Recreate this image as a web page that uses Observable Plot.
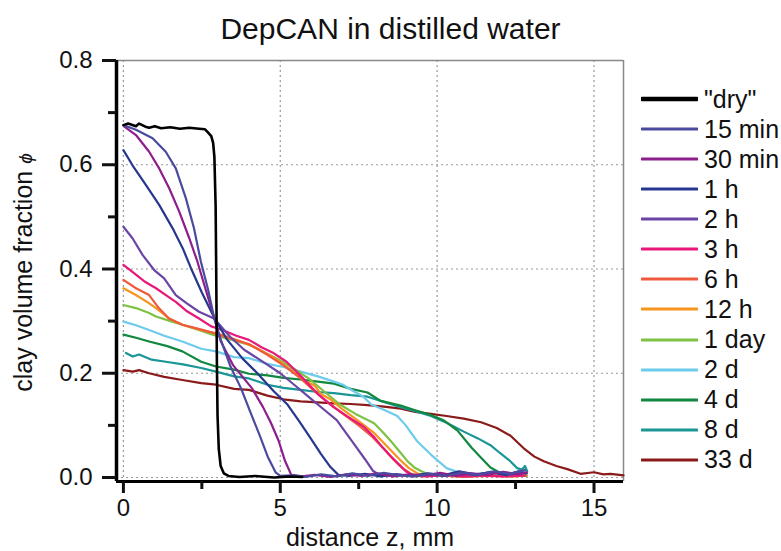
<!DOCTYPE html>
<html><head><meta charset="utf-8">
<script src="https://cdn.jsdelivr.net/npm/d3@7"></script>
<script src="https://cdn.jsdelivr.net/npm/@observablehq/plot@0.6"></script>
<style>
body{margin:0;background:#fff;overflow:hidden;}
#wrap{position:relative;width:781px;height:551px;font-family:"Liberation Sans",Arial,sans-serif;overflow:hidden;color:#111}
#title{position:absolute;left:0;width:781px;top:14px;text-align:center;font-size:30px;line-height:30px}
#xlabel{position:absolute;left:220px;width:300px;top:525px;text-align:center;font-size:25px;line-height:25px}
#ylabel{position:absolute;left:-127px;width:300px;top:260px;height:25px;text-align:center;font-size:25px;line-height:25px;transform:rotate(-90deg);white-space:nowrap}
#ylabel i{font-size:19px}
#legend{position:absolute;left:641px;top:84px;font-size:25px;white-space:nowrap}
.row{height:30.07px;display:flex;align-items:center}
.row svg{flex:none;margin-right:6px}
</style></head>
<body><div id="wrap">
<div id="title">DepCAN in distilled water</div>
<div id="ylabel">clay volume fraction <i>ϕ</i></div>
<div id="xlabel">distance z, mm</div>
<div id="legend"></div>
</div>
<script>
// ---- data: [distance z (mm), clay volume fraction phi] ----
const dry = [[0,0.676],[0.15,0.679],[0.4,0.674],[0.5,0.679],[0.7,0.673],[0.82,0.671],[1.0,0.674],[1.2,0.67],[1.5,0.672],[1.8,0.669],[2.1,0.671],[2.41,0.669],[2.6,0.668],[2.68,0.663],[2.8,0.655],[2.86,0.642],[2.9,0.615],[2.94,0.52],[2.96,0.38],[2.98,0.22],[3.0,0.12],[3.04,0.055],[3.1,0.022],[3.2,0.008],[3.35,0.003],[3.7,0.001],[4.2,0.003],[4.8,0.0],[5.3,0.002],[5.7,0.001]];
const min15 = [[0,0.676],[0.4,0.667],[0.93,0.651],[1.35,0.625],[1.67,0.593],[1.99,0.536],[2.25,0.478],[2.47,0.414],[2.7,0.36],[2.89,0.307],[3.1,0.265],[3.4,0.215],[3.75,0.171],[4.05,0.125],[4.35,0.08],[4.6,0.04],[4.85,0.01],[5.0,0.003],[5.4,0.004],[5.8,0.001],[6.3,0.006],[6.8,0.002],[7.3,0.008],[7.8,0.003],[8.3,0.009],[8.8,0.004],[9.3,0.002],[9.8,0.007],[10.3,0.003],[10.8,0.01],[11.3,0.005],[11.8,0.012],[12.3,0.007],[12.8,0.014]];
const min30 = [[0.03,0.673],[0.4,0.657],[0.82,0.625],[1.14,0.593],[1.46,0.555],[1.78,0.51],[2.1,0.459],[2.36,0.414],[2.6,0.365],[2.89,0.307],[3.1,0.262],[3.5,0.215],[4.1,0.171],[4.45,0.135],[4.7,0.105],[4.95,0.07],[5.15,0.032],[5.35,0.005],[5.7,0.002],[6.1,0.005],[6.6,0.001],[7.1,0.006],[7.6,0.003],[8.1,0.008],[8.6,0.002],[9.1,0.006],[9.6,0.004],[10.1,0.009],[10.6,0.003],[11.1,0.008],[11.6,0.005],[12.1,0.011],[12.6,0.006],[12.85,0.01]];
const h1 = [[0,0.628],[0.29,0.599],[0.72,0.561],[1.14,0.523],[1.57,0.478],[1.89,0.44],[2.15,0.402],[2.5,0.355],[2.89,0.307],[3.3,0.265],[3.8,0.228],[4.27,0.2],[4.8,0.165],[5.23,0.14],[5.6,0.108],[5.97,0.075],[6.3,0.045],[6.6,0.02],[6.85,0.005],[7.2,0.003],[7.7,0.007],[8.2,0.002],[8.7,0.006],[9.2,0.003],[9.7,0.008],[10.2,0.004],[10.7,0.012],[11.2,0.006],[11.7,0.01],[12.2,0.005],[12.6,0.012],[12.85,0.008]];
const h2 = [[0,0.481],[0.29,0.459],[0.61,0.427],[0.98,0.398],[1.3,0.382],[1.67,0.35],[2.0,0.335],[2.41,0.318],[2.89,0.305],[3.4,0.27],[3.85,0.245],[4.5,0.22],[5.0,0.2],[5.5,0.175],[6.0,0.15],[6.4,0.13],[6.8,0.11],[7.1,0.085],[7.4,0.06],[7.7,0.035],[7.95,0.013],[8.2,0.003],[8.7,0.006],[9.2,0.002],[9.7,0.007],[10.2,0.003],[10.7,0.009],[11.2,0.004],[11.7,0.011],[12.2,0.005],[12.85,0.009]];
const h3 = [[0,0.408],[0.4,0.389],[0.7,0.375],[1.04,0.363],[1.4,0.348],[1.67,0.337],[2.0,0.32],[2.41,0.305],[2.8,0.29],[3.16,0.283],[3.6,0.272],[4.0,0.264],[4.4,0.25],[4.75,0.24],[5.2,0.222],[5.65,0.195],[6.2,0.16],[6.7,0.135],[7.2,0.115],[7.67,0.097],[8.0,0.077],[8.2,0.062],[8.5,0.042],[8.73,0.028],[9.0,0.012],[9.2,0.005],[9.7,0.002],[10.3,0.005],[10.9,0.002],[11.5,0.004],[12.1,0.002],[12.8,0.004]];
const h6 = [[0,0.379],[0.4,0.363],[0.82,0.35],[1.13,0.325],[1.45,0.305],[1.88,0.293],[2.4,0.285],[3.0,0.275],[3.5,0.265],[4.0,0.256],[4.6,0.235],[5.1,0.215],[5.65,0.19],[6.1,0.165],[6.5,0.145],[7.0,0.122],[7.5,0.1],[7.9,0.08],[8.3,0.055],[8.6,0.035],[8.9,0.018],[9.2,0.006],[9.5,0.002],[10.1,0.004],[10.8,0.001],[11.5,0.003],[12.2,0.002],[12.8,0.003]];
const h12 = [[0,0.363],[0.4,0.35],[0.8,0.335],[1.04,0.325],[1.46,0.305],[1.88,0.293],[2.4,0.284],[3.0,0.276],[3.6,0.264],[4.2,0.25],[4.8,0.23],[5.3,0.208],[5.8,0.185],[6.1,0.176],[6.3,0.16],[6.6,0.15],[7.0,0.13],[7.5,0.108],[8.0,0.085],[8.4,0.06],[8.8,0.035],[9.1,0.018],[9.4,0.007],[9.7,0.003],[10.3,0.005],[11.0,0.002],[11.7,0.004],[12.4,0.002],[12.85,0.004]];
const day1 = [[0,0.331],[0.4,0.325],[0.8,0.316],[1.04,0.309],[1.5,0.3],[1.88,0.293],[2.4,0.283],[2.84,0.274],[3.4,0.265],[4.0,0.255],[4.5,0.24],[4.9,0.228],[5.4,0.21],[5.9,0.19],[6.4,0.165],[6.9,0.14],[7.4,0.122],[7.99,0.104],[8.3,0.085],[8.55,0.068],[8.8,0.05],[9.06,0.031],[9.3,0.018],[9.5,0.012],[9.8,0.004],[10.4,0.006],[11.0,0.003],[11.7,0.005],[12.3,0.003],[12.85,0.006]];
const d2 = [[0,0.299],[0.4,0.292],[0.82,0.283],[1.3,0.272],[1.88,0.261],[2.48,0.247],[2.95,0.242],[3.53,0.231],[4.0,0.229],[4.59,0.218],[5.1,0.212],[5.65,0.203],[6.2,0.194],[6.71,0.184],[7.0,0.178],[7.35,0.165],[7.65,0.155],[7.9,0.14],[8.3,0.13],[8.73,0.118],[9.0,0.1],[9.37,0.069],[9.8,0.044],[10.3,0.018],[10.85,0.006],[11.2,0.003],[11.8,0.006],[12.4,0.003],[12.85,0.005]];
const d4 = [[0,0.274],[0.4,0.268],[0.82,0.261],[1.4,0.252],[1.88,0.242],[2.48,0.222],[2.95,0.213],[3.53,0.207],[4.0,0.199],[4.59,0.196],[5.1,0.191],[5.65,0.188],[6.2,0.184],[6.71,0.18],[7.25,0.17],[7.78,0.163],[8.2,0.147],[8.84,0.138],[9.25,0.13],[9.8,0.12],[10.2,0.11],[10.65,0.09],[11.1,0.057],[11.4,0.038],[11.7,0.019],[12.1,0.006],[12.5,0.004],[12.85,0.003]];
const d8 = [[0.08,0.239],[0.3,0.232],[0.5,0.236],[0.9,0.226],[1.35,0.222],[1.9,0.217],[2.48,0.21],[2.95,0.203],[3.53,0.194],[4.0,0.19],[4.59,0.178],[5.1,0.172],[5.65,0.168],[6.2,0.164],[6.71,0.162],[7.25,0.158],[7.78,0.155],[8.3,0.145],[8.84,0.135],[9.3,0.127],[9.8,0.118],[10.3,0.105],[10.85,0.088],[11.3,0.075],[11.7,0.062],[12.0,0.047],[12.3,0.033],[12.55,0.018],[12.7,0.015],[12.8,0.022],[12.87,0.012]];
const d33 = [[0,0.206],[0.3,0.203],[0.5,0.206],[0.82,0.2],[1.3,0.193],[1.88,0.187],[2.48,0.181],[2.95,0.178],[3.53,0.17],[4.0,0.168],[4.59,0.157],[5.1,0.15],[5.65,0.146],[6.2,0.144],[6.71,0.142],[7.25,0.141],[7.78,0.139],[8.3,0.136],[8.84,0.132],[9.3,0.126],[9.8,0.122],[10.3,0.118],[10.85,0.113],[11.4,0.106],[11.9,0.095],[12.34,0.08],[12.76,0.056],[13.1,0.04],[13.4,0.031],[13.8,0.022],[14.15,0.016],[14.57,0.007],[15.0,0.01],[15.3,0.006],[15.53,0.007],[15.94,0.004]];

const labels = ['"dry"','15 min','30 min','1 h','2 h','3 h','6 h','12 h','1 day','2 d','4 d','8 d','33 d'];
const colors = ['#000000','#4a4a9e','#8e1e8c','#27378f','#6a45a5','#e8177a','#f05a3c','#f7941d','#7dc242','#6dcbeb','#11873f','#1a9696','#8b1a1a'];
const profiles = [dry, min15, min30, h1, h2, h3, h6, h12, day1, d2, d4, d8, d33];

const xTicks = [0, 5, 10, 15];
const xMinor = [2.5, 7.5, 12.5];
const yTicks = [0, 0.2, 0.4, 0.6, 0.8];
const yMinor = [0.1, 0.3, 0.5, 0.7];

const xDom = [-0.22, 15.94], yDom = [-0.0077, 0.8];

const lineMarks = [];
for (let i = profiles.length - 1; i >= 0; i--) {
  lineMarks.push(Plot.line(profiles[i], {x: d => d[0], y: d => d[1], stroke: colors[i], strokeWidth: i === 0 ? 2.6 : 2.2, strokeLinejoin: "round"}));
}

const chart = Plot.plot({
  width: 781, height: 551,
  marginLeft: 116, marginRight: 158, marginTop: 60, marginBottom: 70,
  style: {fontFamily: '"Liberation Sans", Arial, sans-serif', fontSize: "24px", color: "#111", background: "transparent"},
  x: {domain: xDom},
  y: {domain: yDom},
  marks: [
    Plot.gridX(xTicks, {stroke: "#999", strokeOpacity: 1, strokeWidth: 1.2, strokeDasharray: "2,3"}),
    Plot.gridY(yTicks, {stroke: "#999", strokeOpacity: 1, strokeWidth: 1.2, strokeDasharray: "2,3"}),
    Plot.ruleY([yDom[1]], {stroke: "#888", strokeWidth: 1.5}),
    Plot.ruleX([xDom[1]], {stroke: "#888", strokeWidth: 1.5}),
    ...lineMarks,
    Plot.ruleX([xDom[0]], {stroke: "#000", strokeWidth: 3.5}),
    Plot.ruleY([yDom[0]], {stroke: "#000", strokeWidth: 3}),
    Plot.axisY(yTicks, {tickSize: 14, tickPadding: 10, strokeWidth: 3, fontSize: 24, tickFormat: d3.format(".1f"), label: null}),
    Plot.axisY(yMinor, {tickSize: 8, strokeWidth: 3, tickFormat: () => "", label: null}),
    Plot.axisX(xTicks, {tickSize: 12, tickPadding: 5, strokeWidth: 3, fontSize: 24, tickFormat: d3.format("d"), label: null}),
    Plot.axisX(xMinor, {tickSize: 8, strokeWidth: 3, tickFormat: () => "", label: null})
  ]
});
document.getElementById("wrap").prepend(chart);
chart.style.position = "absolute"; chart.style.left = "0"; chart.style.top = "0";

const leg = document.getElementById("legend");
labels.forEach((lab, i) => {
  const row = document.createElement("div");
  row.className = "row";
  const w = i === 0 ? 4.5 : 3;
  row.innerHTML = `<svg width="57" height="8"><line x1="1" y1="4" x2="56" y2="4" stroke="${colors[i]}" stroke-width="${w}" stroke-linecap="round"/></svg><span>${lab}</span>`;
  leg.appendChild(row);
});
</script>
</body></html>
